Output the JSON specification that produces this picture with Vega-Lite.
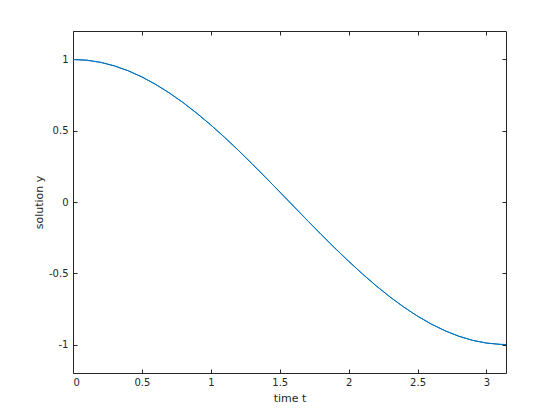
{
  "$schema": "https://vega.github.io/schema/vega-lite/v6.json",
  "width": 433,
  "height": 342,
  "autosize": "none",
  "padding": {"left": 73, "top": 31, "right": 54, "bottom": 47},
  "background": "white",
  "config": {
    "view": {"stroke": null},
    "font": "DejaVu Sans",
    "axis": {
      "grid": false,
      "domainColor": "#262626",
      "domainWidth": 1,
      "tickColor": "#262626",
      "tickWidth": 1,
      "tickSize": -4,
      "labelColor": "#262626",
      "labelFont": "DejaVu Sans",
      "labelFontSize": 10,
      "titleFont": "DejaVu Sans",
      "titleFontSize": 11,
      "titleFontWeight": "normal",
      "titleColor": "#262626"
    }
  },
  "data": {
    "values": [
      {"t": 0, "y": 1},
      {"t": 0.1, "y": 0.995},
      {"t": 0.2, "y": 0.9801},
      {"t": 0.3, "y": 0.9553},
      {"t": 0.4, "y": 0.9211},
      {"t": 0.5, "y": 0.8776},
      {"t": 0.6, "y": 0.8253},
      {"t": 0.7, "y": 0.7648},
      {"t": 0.8, "y": 0.6967},
      {"t": 0.9, "y": 0.6216},
      {"t": 1.0, "y": 0.5403},
      {"t": 1.1, "y": 0.4536},
      {"t": 1.2, "y": 0.3624},
      {"t": 1.3, "y": 0.2675},
      {"t": 1.4, "y": 0.17},
      {"t": 1.5, "y": 0.0707},
      {"t": 1.6, "y": -0.0292},
      {"t": 1.7, "y": -0.1288},
      {"t": 1.8, "y": -0.2272},
      {"t": 1.9, "y": -0.3233},
      {"t": 2.0, "y": -0.4161},
      {"t": 2.1, "y": -0.5048},
      {"t": 2.2, "y": -0.5885},
      {"t": 2.3, "y": -0.6663},
      {"t": 2.4, "y": -0.7374},
      {"t": 2.5, "y": -0.8011},
      {"t": 2.6, "y": -0.8569},
      {"t": 2.7, "y": -0.9041},
      {"t": 2.8, "y": -0.9422},
      {"t": 2.9, "y": -0.971},
      {"t": 3.0, "y": -0.99},
      {"t": 3.1, "y": -0.9991},
      {"t": 3.14159, "y": -1}
    ]
  },
  "layer": [
    {
      "mark": {"type": "line", "color": "#0072BD", "strokeWidth": 1, "clip": true},
      "encoding": {
        "x": {
          "field": "t", "type": "quantitative",
          "scale": {"domain": [0, 3.14159], "nice": false, "zero": false},
          "axis": {"orient": "bottom", "title": "time t", "values": [0, 0.5, 1, 1.5, 2, 2.5, 3], "labelExpr": "'' + datum.value", "labelPadding": 8, "titlePadding": 5}
        },
        "y": {
          "field": "y", "type": "quantitative",
          "scale": {"domain": [-1.2, 1.2], "nice": false, "zero": false},
          "axis": {"orient": "left", "title": "solution y", "values": [-1, -0.5, 0, 0.5, 1], "labelExpr": "'' + datum.value", "labelPadding": 9, "titlePadding": 4}
        }
      }
    },
    {
      "mark": {"type": "line", "color": "#0072BD", "strokeWidth": 1, "clip": true},
      "encoding": {
        "x": {
          "field": "t", "type": "quantitative",
          "axis": {"orient": "top", "title": null, "labels": false, "values": [0, 0.5, 1, 1.5, 2, 2.5, 3]}
        },
        "y": {
          "field": "y", "type": "quantitative",
          "axis": {"orient": "right", "title": null, "labels": false, "values": [-1, -0.5, 0, 0.5, 1]}
        }
      }
    }
  ],
  "resolve": {"axis": {"x": "independent", "y": "independent"}}
}
